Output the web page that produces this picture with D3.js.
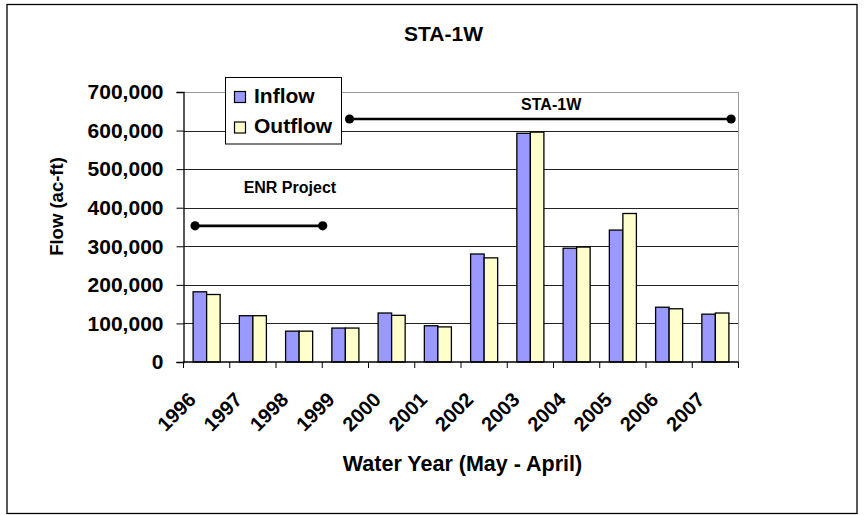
<!DOCTYPE html>
<html>
<head>
<meta charset="utf-8">
<script src="https://cdn.jsdelivr.net/npm/d3@7"></script>
<style>
  body { margin: 0; background: #fff; }
  svg { display: block; font-family: "Liberation Sans", Arial, sans-serif; font-weight: bold; }
</style>
</head>
<body>
<svg id="chart" width="867" height="515"></svg>
<script>
// Dados do gráfico
const years = ['1996', '1997', '1998', '1999', '2000', '2001', '2002', '2003', '2004', '2005', '2006', '2007'];
const series = ['Inflow', 'Outflow'];
const inflow = [182000, 120000, 80000, 88000, 127000, 94000, 280000, 593000, 295000, 342000, 142000, 124000];
const outflow = [175000, 120000, 80000, 88000, 121000, 91000, 270000, 596000, 298000, 385000, 138000, 127000];
const yTicks = [0, 100000, 200000, 300000, 400000, 500000, 600000, 700000];

// Períodos anotados (posição em índice de categoria, valor no eixo y)
const periods = [
    { label: 'ENR Project', start: 0.25, end: 3.01, level: 353000, labelAt: 2.3, labelLevel: 438000 },
    { label: 'STA-1W', start: 3.59, end: 11.84, level: 630000, labelAt: 7.95, labelLevel: 653000 }
];

const colors = { Inflow: '#9999FF', Outflow: '#FFFFCC' };

const svg = d3.select('#chart');

// Moldura externa
svg.append('rect')
    .attr('x', 7).attr('y', 4.5)
    .attr('width', 850).attr('height', 509)
    .attr('fill', '#fff')
    .attr('stroke', '#000')
    .attr('stroke-width', 1.3);

const plot = { left: 183.5, right: 738.5, top: 92, bottom: 362 };

const x = d3.scaleBand().domain(years).range([plot.left, plot.right]).paddingInner(0).paddingOuter(0);
const x1 = d3.scaleBand().domain(series).range([0, x.bandwidth()]).paddingInner(0).paddingOuter(0.71);
const xIdx = d3.scaleLinear().domain([0, years.length]).range([plot.left, plot.right]);
const y = d3.scaleLinear().domain([0, 700000]).range([plot.bottom, plot.top]);

// Linhas de grade
svg.append('g')
    .selectAll('line')
    .data(yTicks.slice(1))
    .enter()
    .append('line')
    .attr('x1', plot.left).attr('x2', plot.right)
    .attr('y1', (d) => Math.round(y(d)) + 0.5)
    .attr('y2', (d) => Math.round(y(d)) + 0.5)
    .attr('stroke', (d) => d === 700000 ? '#999' : '#222')
    .attr('stroke-width', 1);

// Borda direita da área do gráfico
svg.append('line')
    .attr('x1', plot.right).attr('x2', plot.right)
    .attr('y1', plot.top).attr('y2', plot.bottom)
    .attr('stroke', '#999');

// Barras
const rows = years.map((yr, i) => ({ year: yr, Inflow: inflow[i], Outflow: outflow[i] }));

svg.append('g')
    .selectAll('g')
    .data(rows)
    .enter()
    .append('g')
    .attr('transform', (d) => `translate(${ x(d.year) },0)`)
    .selectAll('rect')
    .data((d) => series.map((s) => ({ key: s, value: d[s] })))
    .enter()
    .append('rect')
    .attr('x', (d) => x1(d.key))
    .attr('y', (d) => y(d.value))
    .attr('width', x1.bandwidth())
    .attr('height', (d) => y(0) - y(d.value))
    .attr('fill', (d) => colors[d.key])
    .attr('stroke', '#000')
    .attr('stroke-width', 1.3);

// Eixo y
const yAxis = d3.axisLeft(y)
    .tickValues(yTicks)
    .tickSize(7)
    .tickPadding(13)
    .tickFormat(d3.format(','));

svg.append('g')
    .attr('transform', `translate(${ plot.left },0)`)
    .call(yAxis)
    .call((g) => g.select('.domain').attr('stroke', '#000').attr('stroke-width', 1.3))
    .call((g) => g.selectAll('.tick line').attr('stroke', '#000'))
    .call((g) => g.selectAll('.tick text')
        .attr('font-size', '21px')
        .attr('font-family', '"Liberation Sans", Arial, sans-serif')
        .attr('font-weight', 'bold')
        .attr('fill', '#000'));

// Eixo x: traços nos limites das categorias
svg.append('line')
    .attr('x1', plot.left).attr('x2', plot.right)
    .attr('y1', plot.bottom).attr('y2', plot.bottom)
    .attr('stroke', '#000').attr('stroke-width', 1.3);

svg.append('g')
    .selectAll('line')
    .data(d3.range(years.length + 1))
    .enter()
    .append('line')
    .attr('x1', (d) => xIdx(d)).attr('x2', (d) => xIdx(d))
    .attr('y1', plot.bottom).attr('y2', plot.bottom + 6)
    .attr('stroke', '#000');

svg.append('g')
    .selectAll('text')
    .data(years)
    .enter()
    .append('text')
    .attr('transform', (d) => `translate(${ x(d) + x.bandwidth() / 2 - 9.5 },401) rotate(-45)`)
    .attr('text-anchor', 'end')
    .attr('font-size', '20px')
    .text((d) => d);

// Anotações dos períodos
const ann = svg.append('g');

periods.forEach((p) => {
    ann.append('line')
        .attr('x1', xIdx(p.start)).attr('x2', xIdx(p.end))
        .attr('y1', y(p.level)).attr('y2', y(p.level))
        .attr('stroke', '#000')
        .attr('stroke-width', 2.6);
    ann.selectAll(null)
        .data([p.start, p.end])
        .enter()
        .append('circle')
        .attr('cx', (d) => xIdx(d))
        .attr('cy', y(p.level))
        .attr('r', 4.6)
        .attr('fill', '#000');
    ann.append('text')
        .attr('x', xIdx(p.labelAt))
        .attr('y', y(p.labelLevel))
        .attr('text-anchor', 'middle')
        .attr('font-size', '16px')
        .text(p.label);
});

// Legenda
const legend = svg.append('g');

legend.append('rect')
    .attr('x', 225.5).attr('y', 77.5)
    .attr('width', 116).attr('height', 66.5)
    .attr('fill', '#fff')
    .attr('stroke', '#000')
    .attr('stroke-width', 1);

series.forEach((s, i) => {
    legend.append('rect')
        .attr('x', 234.5).attr('y', 91.5 + i * 30.5)
        .attr('width', 11).attr('height', 11)
        .attr('fill', colors[s])
        .attr('stroke', '#000')
        .attr('stroke-width', 1.2);
    legend.append('text')
        .attr('x', 254)
        .attr('y', 103.3 + i * 30)
        .attr('font-size', '21px')
        .text(s);
});

// Títulos
svg.append('text')
    .attr('x', 443.5).attr('y', 40.7)
    .attr('text-anchor', 'middle')
    .attr('font-size', '21px')
    .text('STA-1W');

svg.append('text')
    .attr('transform', 'translate(62.5,206.5) rotate(-90)')
    .attr('text-anchor', 'middle')
    .attr('font-size', '18.5px')
    .text('Flow (ac-ft)');

svg.append('text')
    .attr('x', 462.5).attr('y', 471)
    .attr('text-anchor', 'middle')
    .attr('font-size', '21.5px')
    .text('Water Year (May - April)');
</script>
</body>
</html>
